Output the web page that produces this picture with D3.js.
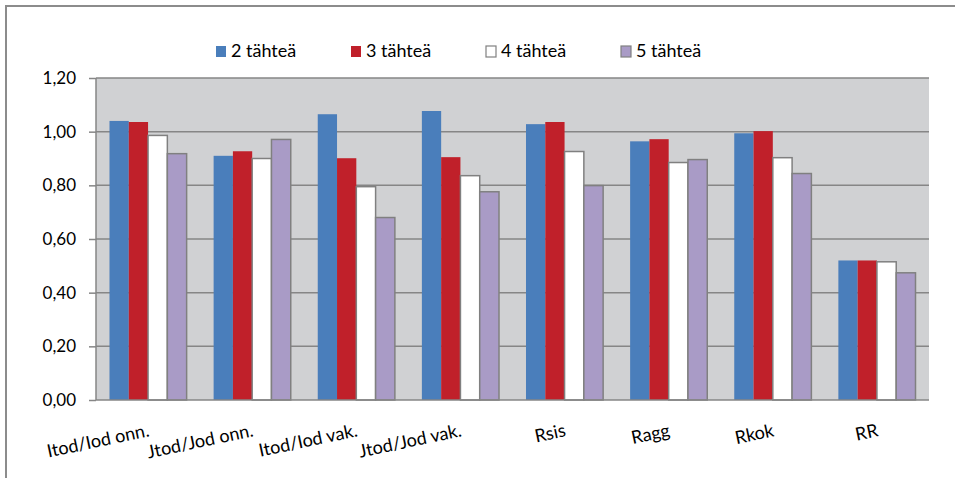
<!DOCTYPE html>
<html>
<head>
<meta charset="utf-8">
<script src="https://cdn.jsdelivr.net/npm/d3@7"></script>
<style>
  body { margin: 0; background: #fff; }
  svg { display: block; font-family: Lato, "Open Sans", sans-serif; }
</style>
</head>
<body>
<svg></svg>
<script>
var width = 955;
var height = 478;
var margin = { top: 78, right: 26, bottom: 78, left: 96 };

var categories = ["Itod/Iod onn.", "Jtod/Jod onn.", "Itod/Iod vak.", "Jtod/Jod vak.", "Rsis", "Ragg", "Rkok", "RR"];
var seriesNames = ["2 tähteä", "3 tähteä", "4 tähteä", "5 tähteä"];
var stars2 = [1.04, 0.91, 1.065, 1.077, 1.028, 0.964, 0.994, 0.52];
var stars3 = [1.036, 0.927, 0.901, 0.905, 1.036, 0.972, 1.002, 0.52];
var stars4 = [0.986, 0.90, 0.795, 0.836, 0.926, 0.885, 0.903, 0.515];
var stars5 = [0.918, 0.971, 0.68, 0.776, 0.799, 0.896, 0.844, 0.474];
var yTicks = [0, 0.2, 0.4, 0.6, 0.8, 1.0, 1.2];

var colors = ["#4a7ebb", "#c0202a", "#ffffff", "#a99bc6"];
var strokes = [null, null, "#808080", "#808080"];
var seriesValues = [stars2, stars3, stars4, stars5];

var svg = d3.select("svg")
    .attr("width", width)
    .attr("height", height);

// outer frame (left and top edges only visible)
svg.append("path")
    .attr("d", `M6,${height} V6 H${width}`)
    .attr("fill", "none")
    .attr("stroke", "#8c8c8c")
    .attr("stroke-width", 2);

var x = d3.scaleBand()
    .domain(categories)
    .range([margin.left, width - margin.right]);

var x1 = d3.scaleBand()
    .domain(seriesNames)
    .range([0, x.bandwidth()])
    .paddingOuter(0.7);

var y = d3.scaleLinear()
    .domain([0, 1.2])
    .range([height - margin.bottom, margin.top]);

// plot background
svg.append("rect")
    .attr("x", margin.left)
    .attr("y", margin.top)
    .attr("width", width - margin.left - margin.right)
    .attr("height", height - margin.top - margin.bottom)
    .attr("fill", "#d0d1d3");

// gridlines
svg.append("g")
  .selectAll("line")
  .data(yTicks.slice(1))
  .join("line")
    .attr("x1", margin.left)
    .attr("x2", width - margin.right)
    .attr("y1", d => y(d))
    .attr("y2", d => y(d))
    .attr("stroke", "#868686")
    .attr("stroke-width", 1.5);

// bars
var rows = categories.map((c, i) => seriesNames.map((s, j) => ({ cat: c, series: s, idx: j, value: seriesValues[j][i] })));

svg.append("g")
  .selectAll("g")
  .data(rows)
  .join("g")
    .attr("transform", (d, i) => `translate(${x(categories[i])},0)`)
  .selectAll("rect")
  .data(d => d)
  .join("rect")
    .attr("x", d => x1(d.series))
    .attr("width", x1.bandwidth())
    .attr("y", d => y(d.value))
    .attr("height", d => y(0) - y(d.value))
    .attr("fill", d => colors[d.idx])
    .attr("stroke", d => strokes[d.idx])
    .attr("stroke-width", 1.5);

// y axis
var yAxis = svg.append("g")
    .attr("transform", `translate(${margin.left},0)`)
    .call(d3.axisLeft(y)
      .tickValues(yTicks)
      .tickSize(7)
      .tickPadding(13)
      .tickFormat(d => d3.format(".2f")(d).replace(".", ",")));
yAxis.selectAll("line, path").attr("stroke", "#868686").attr("stroke-width", 1.5);
yAxis.select(".domain").attr("d", `M0,${y(0)}V${y(1.2)}`);
yAxis.selectAll("text")
    .attr("fill", "#000")
    .style("font-size", "17px")
    .style("font-family", "Lato, sans-serif");

// x axis line
svg.append("line")
    .attr("x1", margin.left)
    .attr("x2", width - margin.right)
    .attr("y1", y(0))
    .attr("y2", y(0))
    .attr("stroke", "#868686")
    .attr("stroke-width", 1.5);

// x labels, slanted
svg.append("g")
  .selectAll("text")
  .data(categories)
  .join("text")
    .attr("transform", d => `translate(${x(d) + x.bandwidth() / 2 + 2},${y(0) + 36}) rotate(-12)`)
    .attr("text-anchor", "end")
    .style("font-size", "18px")
    .text(d => d);

// legend
var legend = svg.append("g")
  .selectAll("g")
  .data(seriesNames)
  .join("g")
    .attr("transform", (d, i) => `translate(${216 + i * 135},46)`);

legend.append("rect")
    .attr("width", 10)
    .attr("height", 11)
    .attr("fill", (d, i) => colors[i])
    .attr("stroke", (d, i) => strokes[i])
    .attr("stroke-width", 1.2);

legend.append("text")
    .attr("x", 15)
    .attr("y", 11)
    .style("font-size", "18px")
    .text(d => d);
</script>
</body>
</html>
